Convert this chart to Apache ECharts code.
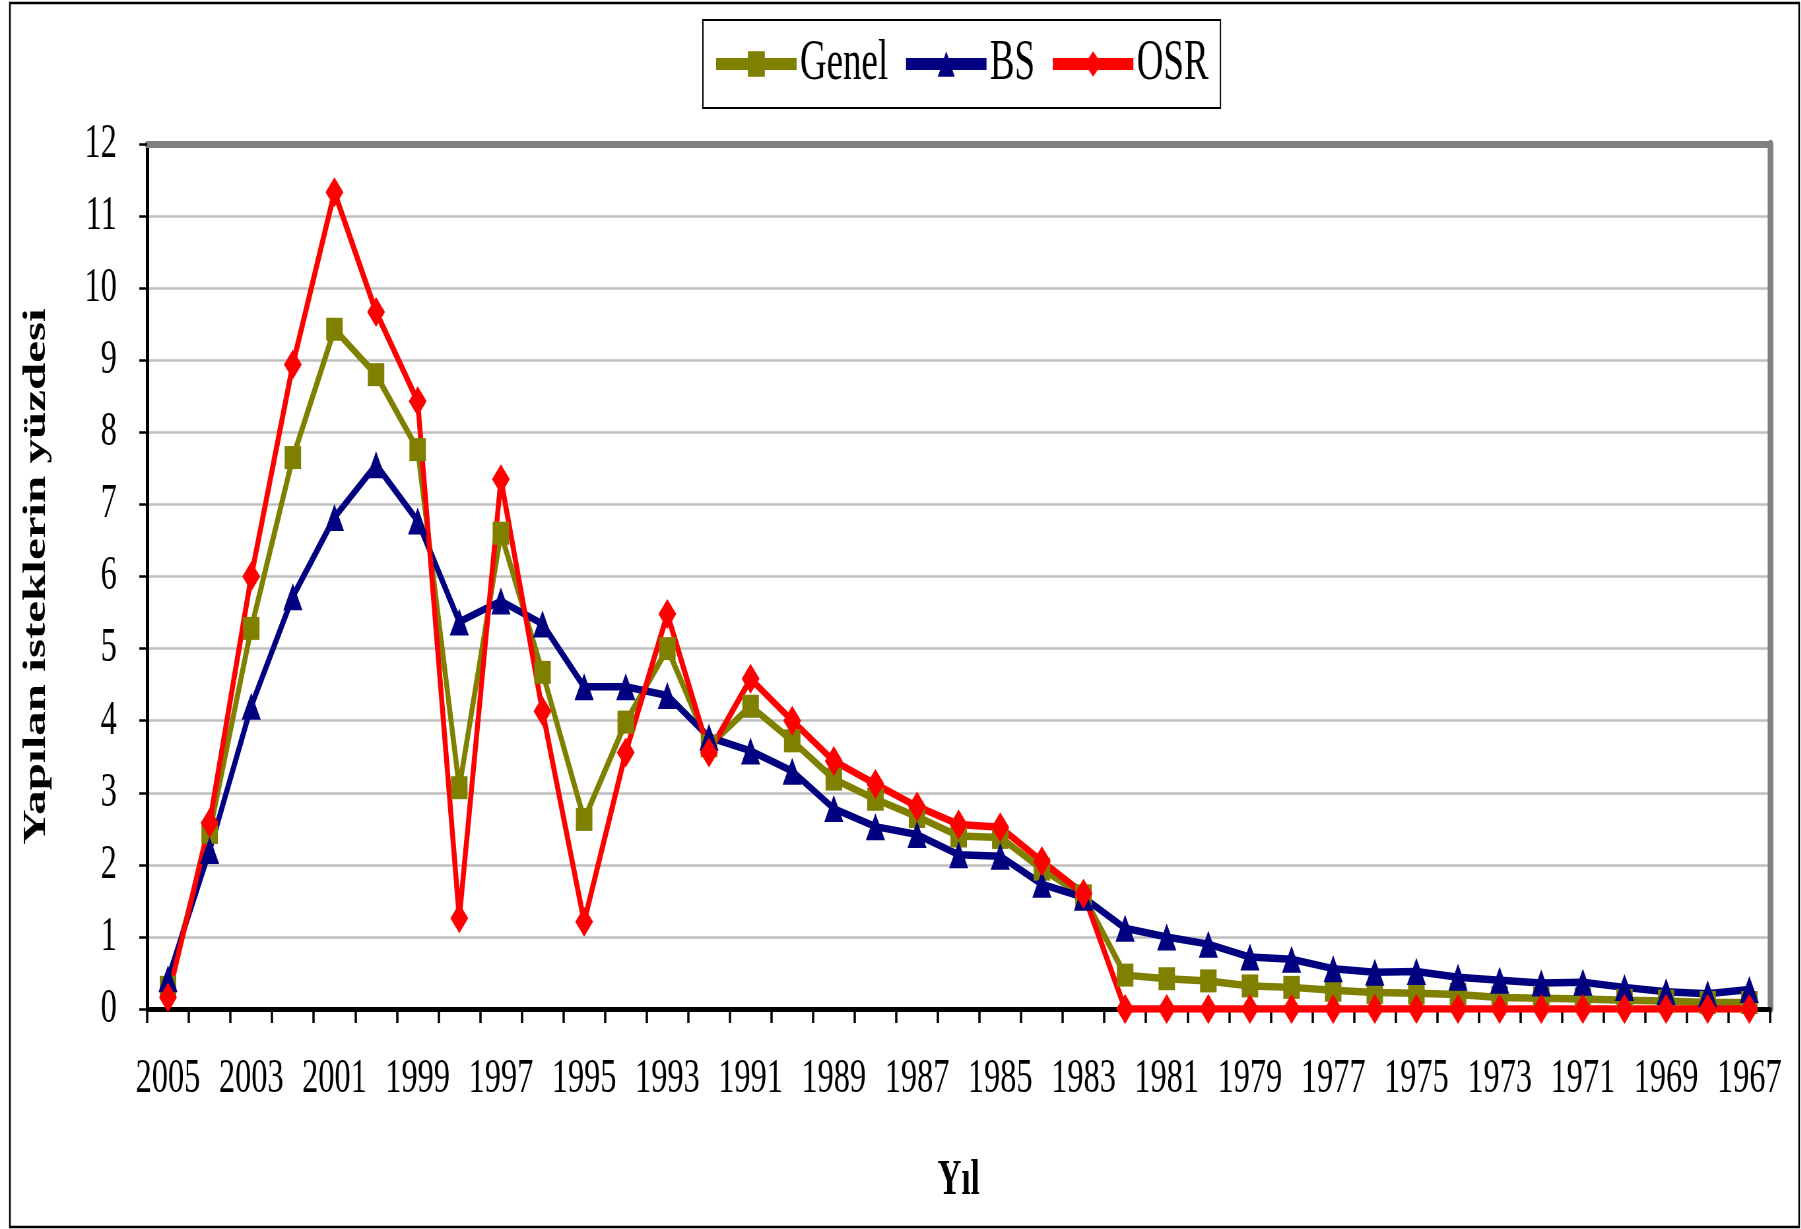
<!DOCTYPE html>
<html>
<head>
<meta charset="utf-8">
<script src="https://cdn.jsdelivr.net/npm/echarts@6/dist/echarts.min.js"></script>
<style>
html,body{margin:0;padding:0;background:#fff;overflow:hidden;width:1801px;height:1229px;}
#chart{width:2729px;height:1229px;transform:scaleX(0.66);transform-origin:0 0;}
</style>
</head>
<body>
<div id="chart"></div>
<script>
const years = [2005,2004,2003,2002,2001,2000,1999,1998,1997,1996,1995,1994,1993,1992,1991,1990,1989,1988,1987,1986,1985,1984,1983,1982,1981,1980,1979,1978,1977,1976,1975,1974,1973,1972,1971,1970,1969,1968,1967].map(String);
const genel = [0.3,2.45,5.28,7.65,9.43,8.8,7.76,3.07,6.6,4.67,2.63,3.98,5.0,3.65,4.2,3.72,3.19,2.91,2.67,2.4,2.38,1.94,1.57,0.47,0.42,0.39,0.32,0.3,0.26,0.23,0.22,0.2,0.16,0.15,0.14,0.12,0.11,0.09,0.09];
const bs = [0.42,2.2,4.2,5.72,6.82,7.55,6.77,5.37,5.66,5.34,4.47,4.47,4.35,3.77,3.58,3.3,2.78,2.53,2.42,2.14,2.12,1.73,1.55,1.12,1.0,0.9,0.72,0.69,0.56,0.51,0.52,0.44,0.4,0.36,0.37,0.3,0.24,0.21,0.27];
const osr = [0.16,2.58,6.0,8.94,11.33,9.67,8.43,1.26,7.35,4.13,1.21,3.56,5.48,3.56,4.58,4.0,3.44,3.12,2.81,2.56,2.52,2.05,1.6,0,0,0,0,0,0,0,0,0,0,0,0,0,0,0,0];
const yTicks = {min:0, max:12, interval:1};

const FONT = 'Liberation Serif';
const chart = echarts.init(document.getElementById('chart'), null, {renderer:'canvas'});
chart.setOption({
  animation:false,
  backgroundColor:'#ffffff',
  textStyle:{fontFamily:FONT},
  graphic:[{type:'rect', shape:{x:15,y:3,width:2711,height:1224}, style:{fill:'none', stroke:'#000', lineWidth:2.5}, z:-1}],
  legend:{
    left:1065, top:20, orient:'horizontal',
    padding:[16,18,16,14],
    borderColor:'#000', borderWidth:2,
    itemWidth:122, itemHeight:32, itemGap:21,
    textStyle:{fontFamily:FONT, fontSize:56, color:'#000'},
    lineStyle:{width:12},
    data:['Genel','BS','OSR']
  },
  grid:{left:223, right:47, top:144, bottom:220, containLabel:false},
  xAxis:[{
    type:'category', data:years, boundaryGap:true,
    axisLine:{show:true, onZero:false, lineStyle:{color:'#000', width:5}},
    axisTick:{show:true, interval:0, length:14, lineStyle:{color:'#000', width:3.5}},
    axisLabel:{interval:1, fontSize:49, margin:46, color:'#000', fontFamily:FONT},
    splitLine:{show:false},
    name:'Yıl', nameLocation:'middle', nameGap:147,
    nameTextStyle:{fontFamily:FONT, fontSize:50, fontWeight:'bold', color:'#000'}
  },{
    type:'category', data:years, position:'top', boundaryGap:true,
    axisLine:{show:true, onZero:false, lineStyle:{color:'#808080', width:7}},
    axisTick:{show:false}, axisLabel:{show:false}, splitLine:{show:false}
  }],
  yAxis:[{
    type:'value', min:yTicks.min, max:yTicks.max, interval:yTicks.interval,
    axisLine:{show:true, onZero:false, lineStyle:{color:'#000', width:5}},
    axisTick:{show:true, length:12, lineStyle:{color:'#000', width:2.5}},
    axisLabel:{fontSize:49, margin:46, color:'#000', fontFamily:FONT},
    splitLine:{show:true, lineStyle:{color:'#bfbfbf', width:2.5}},
    name:'Yapılan isteklerin yüzdesi', nameLocation:'middle', nameGap:143, nameRotate:90,
    nameTextStyle:{fontFamily:FONT, fontSize:49, fontWeight:'bold', color:'#000'}
  },{
    type:'value', min:yTicks.min, max:yTicks.max, position:'right',
    axisLine:{show:true, onZero:false, lineStyle:{color:'#808080', width:8.5}},
    axisTick:{show:false}, axisLabel:{show:false}, splitLine:{show:false}
  }],
  series:[
    {name:'Genel', type:'line', data:genel, symbol:'rect', symbolSize:[25,23],
     lineStyle:{color:'#808000', width:7.5}, itemStyle:{color:'#808000'}},
    {name:'BS', type:'line', data:bs, symbol:'triangle', symbolSize:[29,27],
     lineStyle:{color:'#000080', width:7.5}, itemStyle:{color:'#000080'}},
    {name:'OSR', type:'line', data:osr, symbol:'diamond', symbolSize:[27,30],
     lineStyle:{color:'#ff0000', width:7.5}, itemStyle:{color:'#ff0000'}}
  ]
});
</script>
</body>
</html>
